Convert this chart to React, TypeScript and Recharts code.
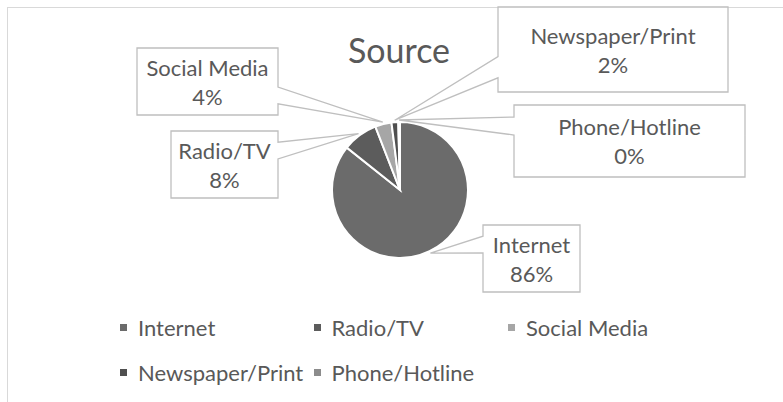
import React from "react";
import { PieChart, Pie, Cell, Legend, Customized } from "recharts";

// ---- data ----
const categories = ["Internet", "Radio/TV", "Social Media", "Newspaper/Print", "Phone/Hotline"];
const shares = [85.7, 8.4, 3.9, 1.6, 0.4];
const title = "Source";

// ---- styles ----
const COLORS = ["#6b6b6b", "#5c5c5c", "#a6a6a6", "#4f4f4f", "#8c8c8c"];
const TEXT = "#595959";
const FONT = "Lato, 'Open Sans', sans-serif";

// callout box layout, offset of box top-left from pie centre, plus size
const CALLOUT_LAYOUT: Record<string, { dx: number; dy: number; w: number; h: number }> = {
  Internet: { dx: 83, dy: 35, w: 97, h: 67 },
  "Radio/TV": { dx: -229, dy: -59, w: 107, h: 67 },
  "Social Media": { dx: -263, dy: -142, w: 141, h: 67 },
  "Newspaper/Print": { dx: 98, dy: -183, w: 230, h: 85 },
  "Phone/Hotline": { dx: 114, dy: -85, w: 231, h: 72 },
};

const data = categories.map((name, i) => ({ name, value: shares[i] }));

const RAD = Math.PI / 180;
const polar = (cx: number, cy: number, r: number, angle: number) => [
  cx + r * Math.cos(-angle * RAD),
  cy + r * Math.sin(-angle * RAD),
];

// Office "wedgeRectCallout" outline
function wedgeRectPath(l: number, t: number, w: number, h: number, tx: number, ty: number) {
  const r = l + w;
  const b = t + h;
  const hc = l + w / 2;
  const vc = t + h / 2;
  const dxPos = tx - hc;
  const dyPos = ty - vc;
  const dq = (dxPos * h) / w;
  const dz = Math.abs(dyPos) - Math.abs(dq);
  const xg1 = dxPos > 0 ? 7 : 2;
  const xg2 = dxPos > 0 ? 10 : 5;
  const yg1 = dyPos > 0 ? 7 : 2;
  const yg2 = dyPos > 0 ? 10 : 5;
  const x1 = l + (w * xg1) / 12;
  const x2 = l + (w * xg2) / 12;
  const y1 = t + (h * yg1) / 12;
  const y2 = t + (h * yg2) / 12;
  const top = dz > 0 && dyPos < 0;
  const bottom = dz > 0 && dyPos >= 0;
  const left = dz <= 0 && dxPos < 0;
  const right = dz <= 0 && dxPos >= 0;
  const pts: number[][] = [];
  pts.push([l, t], [x1, t]);
  if (top) pts.push([tx, ty]);
  pts.push([x2, t], [r, t], [r, y1]);
  if (right) pts.push([tx, ty]);
  pts.push([r, y2], [r, b], [x2, b]);
  if (bottom) pts.push([tx, ty]);
  pts.push([x1, b], [l, b], [l, y2]);
  if (left) pts.push([tx, ty]);
  pts.push([l, y1]);
  return "M" + pts.map((p) => p[0].toFixed(2) + "," + p[1].toFixed(2)).join(" L") + " Z";
}

const CalloutLabel = (props: any) => {
  const { cx, cy, midAngle, outerRadius, percent, name } = props;
  const lay = CALLOUT_LAYOUT[name];
  if (!lay) return null;
  const [tx, ty] = polar(cx, cy, outerRadius + 2, midAngle);
  const l = cx + lay.dx;
  const t = cy + lay.dy;
  const mx = l + lay.w / 2;
  const my = t + lay.h / 2;
  return (
    <g>
      <path d={wedgeRectPath(l, t, lay.w, lay.h, tx, ty)} fill="#ffffff" stroke="#bfbfbf" strokeWidth={1.3} />
      <text x={mx} y={my - 14.5} textAnchor="middle" dominantBaseline="central" fill={TEXT} fontFamily={FONT} fontSize={22}>
        {name}
      </text>
      <text x={mx} y={my + 14.5} textAnchor="middle" dominantBaseline="central" fill={TEXT} fontFamily={FONT} fontSize={22}>
        {`${Math.round(percent * 100)}%`}
      </text>
    </g>
  );
};

const LegendContent = (props: any) => {
  const payload = [...(props.payload || [])].sort(
    (a: any, b: any) => categories.indexOf(a.value) - categories.indexOf(b.value)
  );
  return (
    <div style={{ display: "grid", gridTemplateColumns: "193.5px 194.5px 194px" }}>
      {payload.map((e: any) => (
        <div key={e.value} style={{ display: "flex", alignItems: "center", height: 45 }}>
          <span style={{ width: 7, height: 7, background: e.color, marginRight: 11, flex: "none" }} />
          <span style={{ fontFamily: FONT, fontSize: 22, color: TEXT, whiteSpace: "nowrap", lineHeight: "45px" }}>
            {e.value}
          </span>
        </div>
      ))}
    </div>
  );
};

const Title = () => (
  <text x={399} y={63} textAnchor="middle" fill={TEXT} fontFamily={FONT} fontSize={34}>
    {title}
  </text>
);

export default function App() {
  return (
    <div style={{ position: "absolute", left: 0, top: 0, width: 783, height: 402, overflow: "hidden", background: "#fff" }}>
      <div
        style={{
          position: "absolute",
          left: 7,
          top: 7,
          width: 820,
          height: 440,
          border: "1px solid #d9d9d9",
          boxSizing: "border-box",
        }}
      />
      <div style={{ position: "absolute", left: 0, top: 0 }}>
        <PieChart width={783} height={402} margin={{ top: 0, right: 0, bottom: 0, left: 0 }}>
          <Customized component={Title} />
          <Pie
            data={data}
            dataKey="value"
            nameKey="name"
            cx={400}
            cy={190}
            outerRadius={68}
            startAngle={90}
            endAngle={-270}
            stroke="#ffffff"
            strokeWidth={2}
            label={CalloutLabel}
            labelLine={false}
            isAnimationActive={false}
          >
            {data.map((d, i) => (
              <Cell key={d.name} fill={COLORS[i]} />
            ))}
          </Pie>
          <Legend
            content={LegendContent}
            itemSorter={null as any}
            wrapperStyle={{ position: "absolute", left: 120, top: 304.5, width: 600, bottom: "auto" }}
          />
        </PieChart>
      </div>
    </div>
  );
}
